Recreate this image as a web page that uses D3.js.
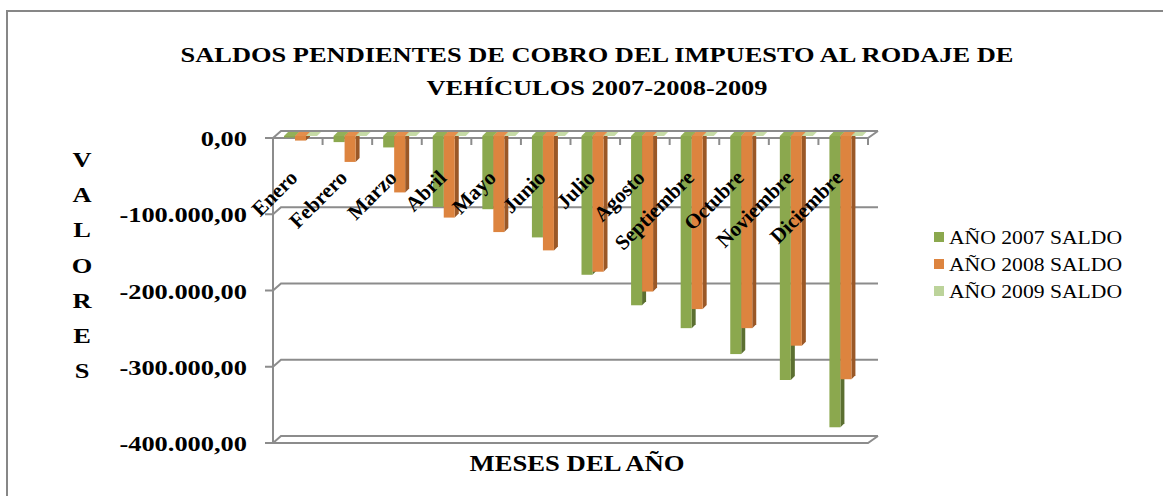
<!DOCTYPE html>
<html>
<head>
<meta charset="utf-8">
<script src="https://cdn.jsdelivr.net/npm/d3@7"></script>
<style>
  body { margin: 0; background: #fff; }
  svg { display: block; }
  text { font-family: "Liberation Serif", "DejaVu Serif", serif; fill: #000; }
</style>
</head>
<body>
<svg id="chart" width="1163" height="496" font-family="Liberation Serif, DejaVu Serif, serif"></svg>
<script>
// data
const months = ["Enero", "Febrero", "Marzo", "Abril", "Mayo", "Junio", "Julio",
                "Agosto", "Septiembre", "Octubre", "Noviembre", "Diciembre"];
const seriesNames = ["AÑO 2007 SALDO", "AÑO 2008 SALDO", "AÑO 2009 SALDO"];
const saldo2007 = [-2000, -8000, -15000, -93000, -96000, -133000, -182000,
                   -222000, -252000, -286000, -320000, -382000];
const saldo2008 = [-6000, -34000, -74000, -107000, -126000, -150000, -178000,
                   -204000, -227000, -252000, -275000, -319000];
const saldo2009 = [0, 0, 0, 0, 0, 0, 0, 0, 0, 0, 0, 0];
const yTicks = [0, -100000, -200000, -300000, -400000];
const titleLines = ["SALDOS PENDIENTES DE COBRO DEL IMPUESTO AL RODAJE DE",
                    "VEHÍCULOS 2007-2008-2009"];

const colors = {front: ["#8ba84e", "#dd843f", "#bcd39a"],
                side: ["#5b6f31", "#9a5827", "#8fa672"],
                cap: ["#93b058", "#e38e4c", "#c6dba6"]};

const svg = d3.select("#chart");
const grid = "#8c8c8c";
const depth = {x: 8, y: 7};    // back wall offset
const bar = {dx: 4, dy: 4};    // bar depth

// stretch text horizontally like the picture
function stretch(sel, k) {
  sel.each(function() {
    let w = this.getComputedTextLength();
    d3.select(this).attr("textLength", w * k).attr("lengthAdjust", "spacingAndGlyphs");
  });
}

// outer frame
svg.append("rect")
  .attr("x", 7).attr("y", 11).attr("width", 1200).attr("height", 520)
  .attr("fill", "none").attr("stroke", "#878787").attr("stroke-width", 2);

// title
svg.append("g").selectAll("text")
  .data(titleLines)
  .enter().append("text")
  .attr("x", 597).attr("y", (d, i) => 62 + i * 33)
  .attr("text-anchor", "middle")
  .attr("font-size", 22).attr("font-weight", "bold")
  .text(d => d)
  .call(stretch, 1.2);

// scales
let x = d3.scaleBand().domain(months).range([273, 868]).padding(0);
let xs = d3.scaleBand().domain(seriesNames).range([11, 44]);
let y = d3.scaleLinear().domain([0, -400000]).range([138, 443]);
let yBar = d3.scaleLinear().domain([0, -400000]).range([136, 441]);

let fmt = d3.formatLocale({decimal: ",", thousands: ".", grouping: [3],
                           currency: ["", ""], minus: "-"}).format(",.2f");

// back wall gridlines + left wall slant
let gl = svg.append("g").attr("stroke", grid).attr("stroke-width", 2).attr("fill", "none");
yTicks.forEach(t => {
  let yf = y(t);
  gl.append("path")
    .attr("d", `M265,${yf}H273L${273 + depth.x},${yf - depth.y}H${868 + depth.x + 2}`);
});
// floor at zero and at bottom (front edge + right slant)
[0, -400000].forEach(t => {
  let yf = y(t);
  gl.append("path")
    .attr("d", `M273,${yf}H868L${868 + depth.x + 2},${yf - depth.y}`);
});
// value axis
gl.append("line").attr("x1", 273).attr("x2", 273).attr("y1", y(0)).attr("y2", y(-400000));
// category ticks
gl.selectAll(".ctick")
  .data(months)
  .enter().append("line")
  .attr("x1", d => x(d) + x.bandwidth()).attr("x2", d => x(d) + x.bandwidth())
  .attr("y1", y(0)).attr("y2", y(0) + 7);

// y labels
svg.append("g").selectAll("text")
  .data(yTicks)
  .enter().append("text")
  .attr("x", 247).attr("y", d => y(d) + 8)
  .attr("text-anchor", "end")
  .attr("font-size", 22).attr("font-weight", "bold")
  .text(d => fmt(d))
  .call(stretch, 1.2);

// bars
let rows = months.map((m, i) => ({month: m, values: [saldo2007[i], saldo2008[i], saldo2009[i]]}));
let cat = svg.append("g").selectAll("g")
  .data(rows)
  .enter().append("g")
  .attr("transform", d => `translate(${x(d.month)},0)`);

cat.each(function(d) {
  let g = d3.select(this);
  d.values.forEach((v, s) => {
    let x0 = xs(seriesNames[s]);
    let w = xs.bandwidth();
    let y0 = yBar(0);
    let y1 = yBar(v);
    // side face
    g.append("path")
      .attr("d", `M${x0 + w},${y0}L${x0 + w + bar.dx},${y0 - bar.dy}V${y1 - bar.dy}L${x0 + w},${y1}Z`)
      .attr("fill", colors.side[s]);
    // front face
    g.append("rect")
      .attr("x", x0).attr("y", y0).attr("width", w).attr("height", y1 - y0)
      .attr("fill", colors.front[s]);
    // top cap
    g.append("path")
      .attr("d", `M${x0},${y0}H${x0 + w}L${x0 + w + bar.dx},${y0 - bar.dy}H${x0 + bar.dx}Z`)
      .attr("fill", colors.cap[s]);
  });
});

// category labels
svg.append("g").selectAll("text")
  .data(months)
  .enter().append("text")
  .attr("transform", d => `translate(${x(d) + x.bandwidth() / 2 + 1},179) rotate(-45)`)
  .attr("text-anchor", "end")
  .attr("font-size", 21).attr("font-weight", "bold")
  .text(d => d);

// axis titles
svg.append("text")
  .attr("x", 577).attr("y", 471)
  .attr("text-anchor", "middle")
  .attr("font-size", 24).attr("font-weight", "bold")
  .attr("textLength", 215).attr("lengthAdjust", "spacingAndGlyphs")
  .text("MESES DEL AÑO");

svg.append("g").selectAll("text")
  .data("VALORES".split(""))
  .enter().append("text")
  .attr("x", 82).attr("y", (d, i) => 167 + i * 35.2)
  .attr("text-anchor", "middle")
  .attr("font-size", 22).attr("font-weight", "bold")
  .text(d => d)
  .call(stretch, 1.2);

// legend
let leg = svg.append("g").selectAll("g")
  .data(seriesNames)
  .enter().append("g")
  .attr("transform", (d, i) => `translate(934,${232 + i * 27})`);
leg.append("rect").attr("width", 10).attr("height", 10)
  .attr("fill", (d, i) => colors.front[i]);
leg.append("text")
  .attr("x", 15).attr("y", 12)
  .attr("font-size", 18)
  .attr("textLength", 173).attr("lengthAdjust", "spacingAndGlyphs")
  .text(d => d);
</script>
</body>
</html>
